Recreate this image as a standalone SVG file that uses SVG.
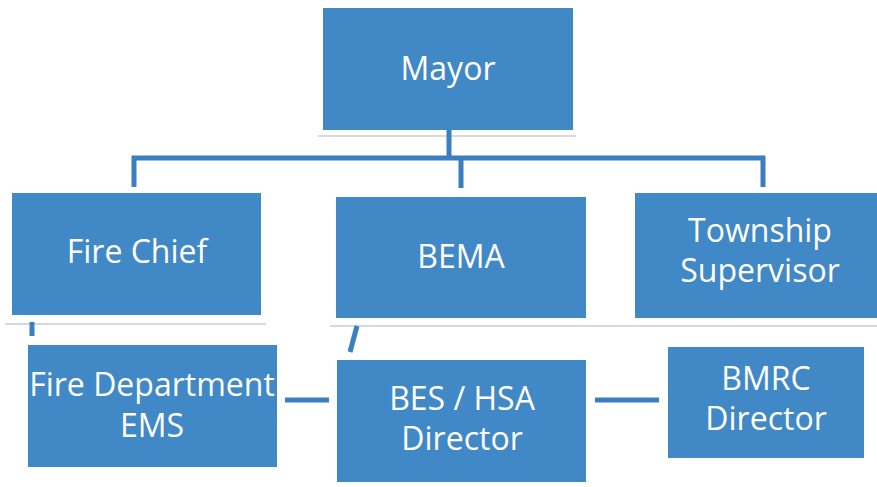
<svg xmlns="http://www.w3.org/2000/svg" width="877" height="487" viewBox="0 0 877 487">
<style>
.box{fill:#4088c6}
.t{font-family:"Open Sans","Liberation Sans",sans-serif;font-size:32px;fill:#ffffff;text-anchor:middle}
.c{stroke:#3b7fc0;stroke-width:5;fill:none}
.g{stroke:#d6d9e0;stroke-width:2;fill:none}
</style>
<rect width="877" height="487" fill="#ffffff"/>
<g id="shadows">
<line class="g" x1="318" y1="136" x2="576" y2="136"/>
<line class="g" x1="5" y1="324" x2="266" y2="324"/>
<line class="g" x1="330" y1="326" x2="877" y2="326"/>
</g>
<g id="connectors">
<path class="c" d="M449,130 V158 M134,187 V158 H763 V187 M461,158 V188"/>
<path class="c" d="M32,322 V336"/>
<path class="c" d="M357,326 L350,352"/>
<path class="c" d="M285,400 H329"/>
<path class="c" d="M595,400 H659"/>
</g>
<g id="mayor">
<rect class="box" x="323" y="8" width="250" height="122"/>
<text class="t" x="448" y="80">Mayor</text>
</g>
<g id="fire-chief">
<rect class="box" x="12" y="193" width="249" height="122"/>
<text class="t" x="137" y="263">Fire Chief</text>
</g>
<g id="bema">
<rect class="box" x="336" y="197" width="250" height="121"/>
<text class="t" x="461" y="268">BEMA</text>
</g>
<g id="township-supervisor">
<rect class="box" x="635" y="193" width="242" height="125"/>
<text class="t" x="760" y="242">Township</text>
<text class="t" x="760" y="282">Supervisor</text>
</g>
<g id="fire-department-ems">
<rect class="box" x="28" y="345" width="249" height="122"/>
<text class="t" x="152" y="396">Fire Department</text>
<text class="t" x="152" y="437">EMS</text>
</g>
<g id="bes-hsa-director">
<rect class="box" x="337" y="360" width="249" height="122"/>
<text class="t" x="462" y="410">BES / HSA</text>
<text class="t" x="462" y="450">Director</text>
</g>
<g id="bmrc-director">
<rect class="box" x="668" y="347" width="196" height="111"/>
<text class="t" x="766" y="390">BMRC</text>
<text class="t" x="766" y="430">Director</text>
</g>
</svg>
